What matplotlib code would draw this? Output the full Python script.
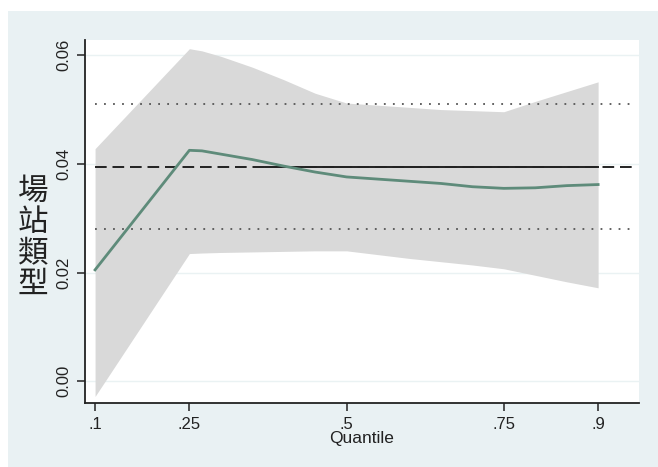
import matplotlib.pyplot as plt
from matplotlib.patches import Rectangle

# quantile regression coefficients
quantiles = [0.10, 0.25, 0.27, 0.30, 0.35, 0.40, 0.45, 0.50,
             0.55, 0.60, 0.65, 0.70, 0.75, 0.80, 0.85, 0.90]
coef = [0.0205, 0.0425, 0.0424, 0.0418, 0.0408, 0.0396, 0.0385, 0.0376,
        0.0372, 0.0368, 0.0364, 0.0358, 0.0355, 0.0356, 0.0360, 0.0362]
ci_upper = [0.0428, 0.0612, 0.0608, 0.0598, 0.0578, 0.0555, 0.0530, 0.0512,
            0.0508, 0.0504, 0.0500, 0.0498, 0.0496, 0.0515, 0.0533, 0.0551]
ci_lower = [-0.0028, 0.0235, 0.0236, 0.0237, 0.0238, 0.0239, 0.0240, 0.0240,
            0.0233, 0.0226, 0.0220, 0.0214, 0.0207, 0.0195, 0.0183, 0.0172]

ols_coef = 0.0394
ols_lo, ols_hi = 0.0281, 0.0510

xticks = [0.1, 0.25, 0.5, 0.75, 0.9]
xtick_labels = ['.1', '.25', '.5', '.75', '.9']
yticks = [0.00, 0.02, 0.04, 0.06]
ytick_labels = ['0.00', '0.02', '0.04', '0.06']

bg = '#E9F1F3'

fig = plt.figure(figsize=(6.58, 4.67), dpi=100, facecolor='white')
fig.patches.append(Rectangle((8 / 658, 0), 1, 1 - 11 / 467, transform=fig.transFigure,
                             facecolor=bg, edgecolor='none', zorder=-1))

ax = fig.add_axes([85 / 658, 64 / 467, 554 / 658, 363 / 467])
ax.set_facecolor('white')

for y in yticks:
    ax.axhline(y, color='#EAF2F3', lw=1, zorder=0)

ax.fill_between(quantiles, ci_lower, ci_upper, color='#D9D9D9', lw=0, zorder=1)

x_end = 0.955
ax.plot([0.1, x_end], [ols_lo, ols_lo], color='#555555', lw=1.3, ls=(0, (1, 4)), zorder=2)
ax.plot([0.1, x_end], [ols_hi, ols_hi], color='#555555', lw=1.3, ls=(0, (1, 4)), zorder=2)
ax.plot([0.1, x_end], [ols_coef, ols_coef], color='#222222', lw=1.4, ls=(0, (6, 3)), zorder=2)
ax.plot([0.37, 0.9], [ols_coef, ols_coef], color='#222222', lw=1.4, zorder=2)

ax.plot(quantiles, coef, color='#5E8B7A', lw=2, zorder=3)

ax.set_xlim(0.084, 0.965)
ax.set_ylim(-0.004, 0.0628)

ax.set_xticks(xticks)
ax.set_xticklabels(xtick_labels, fontsize=12, family='Liberation Sans', color='#222222')
ax.set_yticks(yticks)
ax.set_yticklabels(ytick_labels, fontsize=12, family='Liberation Sans', color='#222222',
                   rotation=90, va='center')
ax.tick_params(direction='out', length=6, width=1.2, color='#333333', pad=4)

for side in ['top', 'right']:
    ax.spines[side].set_visible(False)
for side in ['left', 'bottom']:
    ax.spines[side].set_color('#222222')
    ax.spines[side].set_linewidth(1.3)

ax.set_xlabel('Quantile', fontsize=12.5, family='Liberation Sans', color='#222222',
              labelpad=-1)

fig.text(33 / 658, 1 - 238 / 467, '\n'.join('場站類型'), fontsize=22,
         family=['Noto Sans CJK TC', 'DejaVu Sans'], fontweight='light',
         ha='center', va='center', linespacing=1.0, color='#222222')

fig.savefig('out.png', dpi=100, facecolor=fig.get_facecolor())
